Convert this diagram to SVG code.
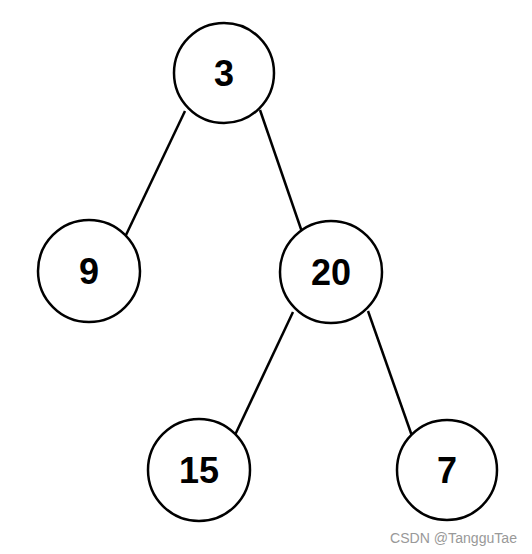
<svg xmlns="http://www.w3.org/2000/svg" width="532" height="554" viewBox="0 0 532 554">
<style>
.n{fill:#fff;stroke:#000;stroke-width:2.5}
.e{stroke:#000;stroke-width:2.5;fill:none}
.t{font-family:"Liberation Sans",Arial,sans-serif;font-weight:bold;font-size:36px;text-anchor:middle;fill:#000}
.w{font-family:"Liberation Sans",Arial,sans-serif;font-size:15.5px;fill:#999}
</style>
<rect width="532" height="554" fill="#fff"/>
<g id="edges">
<line class="e" x1="185" y1="111" x2="126" y2="235"/>
<line class="e" x1="260" y1="110" x2="302" y2="232"/>
<line class="e" x1="293" y1="312" x2="235" y2="435"/>
<line class="e" x1="368" y1="311" x2="412" y2="436"/>
</g>
<g id="n3"><circle class="n" cx="224" cy="73" r="50"/><text class="t" x="224" y="86">3</text></g>
<g id="n9"><circle class="n" cx="89" cy="271" r="51"/><text class="t" x="89" y="284">9</text></g>
<g id="n20"><circle class="n" cx="331" cy="272" r="51"/><text class="t" x="331" y="285">20</text></g>
<g id="n15"><circle class="n" cx="199" cy="470" r="51"/><text class="t" x="199" y="483">15</text></g>
<g id="n7"><circle class="n" cx="447" cy="470" r="50"/><text class="t" x="447" y="483">7</text></g>
<text class="w" x="390" y="543" textLength="127" lengthAdjust="spacingAndGlyphs">CSDN @TangguTae</text>
</svg>
